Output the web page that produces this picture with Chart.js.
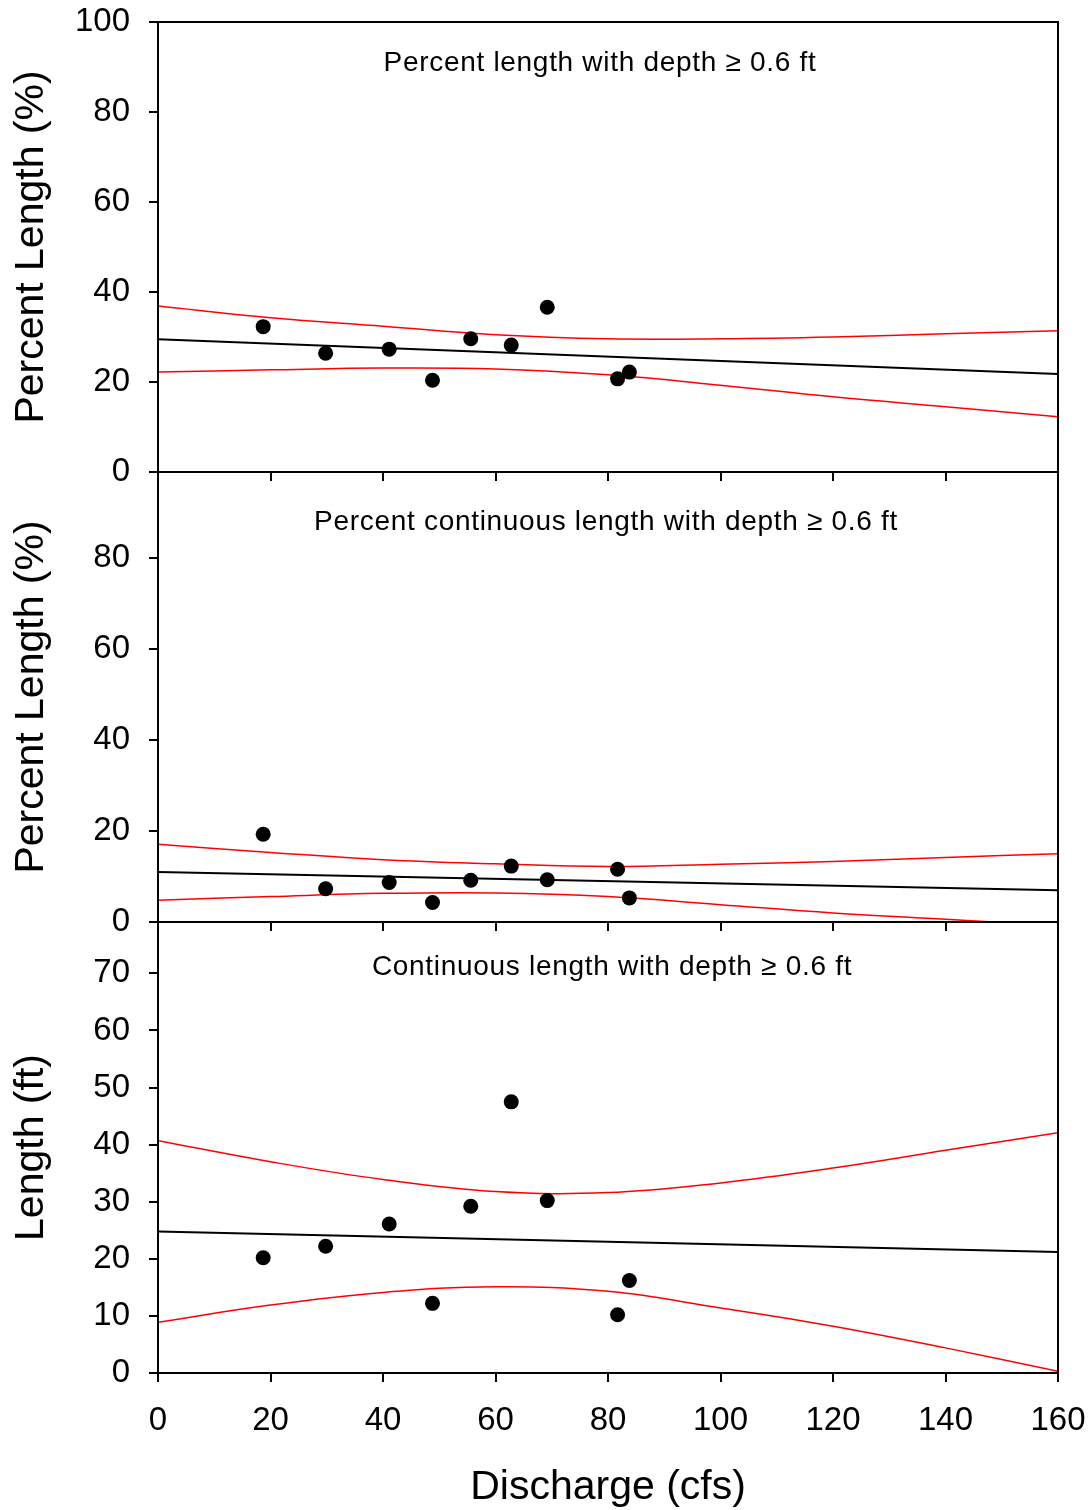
<!DOCTYPE html>
<html>
<head>
<meta charset="utf-8">
<title>Depth vs discharge</title>
<script src="https://cdn.jsdelivr.net/npm/chart.js@4.4.1/dist/chart.umd.min.js"></script>
<style>
  html, body { margin: 0; padding: 0; background: #fff; }
  #figure { position: relative; width: 1092px; height: 1510px; overflow: hidden; }
  #figure canvas { position: absolute; left: 0; }
</style>
</head>
<body>
<div id="figure">
  <canvas id="chart-pct" width="1092" height="499" style="top:2px"></canvas>
  <canvas id="chart-pct-cont" width="1092" height="499" style="top:452px"></canvas>
  <canvas id="chart-cont" width="1092" height="608" style="top:902px"></canvas>
</div>
<script>
/* ---------- Data ---------- */

// Measured discharge for each survey (cfs), shared by all three panels
const discharge = [18.7, 29.8, 41.1, 48.8, 55.6, 62.8, 69.2, 81.7, 83.8];

// Observations
const pctLength = [32.3, 26.4, 27.3, 20.4, 29.6, 28.2, 36.6, 20.7, 22.2];
const pctContLength = [19.3, 7.3, 8.7, 4.3, 9.2, 12.3, 9.3, 11.6, 5.3];
const contLength = [20.2, 22.2, 26.1, 12.2, 29.2, 47.5, 30.2, 10.2, 16.2];

// Regression line end points
const fitX = [0, 160];
const pctLengthFit = [29.5, 21.8];
const pctContFit = [11.0, 7.0];
const contFit = [24.8, 21.2];

// 95% confidence band, read at these discharges
const ciX = [0, 20, 40, 60, 80, 100, 120, 140, 160];
const pctLengthUpper = [36.9, 34.3, 32.4, 30.5, 29.6, 29.6, 30.0, 30.7, 31.4];
const pctLengthLower = [22.2, 22.7, 23.1, 22.9, 21.6, 19.3, 16.7, 14.5, 12.3];
const pctContUpper = [17.1, 15.3, 13.7, 12.8, 12.2, 12.7, 13.3, 14.2, 15.0];
const pctContLower = [4.8, 5.6, 6.3, 6.4, 5.6, 3.8, 2.0, 0.6, -0.8];
const contUpper = [40.7, 37.0, 33.9, 31.8, 31.6, 33.3, 35.9, 39.0, 42.1];
const contLower = [8.9, 11.9, 14.1, 15.1, 14.3, 11.4, 8.2, 4.4, 0.3];

// Tick labels
const xTicks = [0, 20, 40, 60, 80, 100, 120, 140, 160];
const pctTicksTop = [0, 20, 40, 60, 80, 100];
const pctTicksMid = [0, 20, 40, 60, 80];
const lengthTicks = [0, 10, 20, 30, 40, 50, 60, 70];

/* ---------- Helpers ---------- */

const FONT = "'Liberation Sans', Arial, Helvetica, sans-serif";

const toXY = (xs, ys) => xs.map((x, i) => ({ x, y: ys[i] }));

// Box round the plot area + the panel caption
const framePlugin = {
  id: 'frame',
  afterDraw(chart, args, opts) {
    const { ctx, chartArea: a } = chart;
    ctx.save();
    ctx.strokeStyle = '#000';
    ctx.lineWidth = 2;
    ctx.strokeRect(a.left, a.top, a.right - a.left, a.bottom - a.top);
    if (opts.title) {
      ctx.font = `28px ${FONT}`;
      ctx.letterSpacing = '0.7px';
      ctx.fillStyle = '#000';
      ctx.textAlign = 'center';
      ctx.textBaseline = 'middle';
      ctx.fillText(opts.title, opts.titleX, a.top + opts.titleDy);
    }
    ctx.restore();
  },
};

function axisBase(ticks) {
  return {
    type: 'linear',
    afterBuildTicks: (scale) => { scale.ticks = ticks.map((v) => ({ value: v })); },
    grid: {
      display: true, drawOnChartArea: false, drawTicks: true,
      tickLength: 9, color: '#000', lineWidth: 2,
    },
    border: { display: true, color: '#000', width: 2 },
  };
}

// Labels overflowing the plot edge must not shrink the plot area
function noEdgePadding(scale) {
  scale.paddingTop = 0;
  scale.paddingBottom = 0;
  scale.paddingLeft = 0;
  scale.paddingRight = 0;
}

function makePanel(canvasId, p) {
  return new Chart(document.getElementById(canvasId), {
    type: 'scatter',
    data: {
      datasets: [
        {
          data: toXY(discharge, p.obs),
          pointRadius: 7.5, pointHoverRadius: 7.5,
          backgroundColor: '#000', borderWidth: 0, showLine: false,
        },
        {
          data: toXY(fitX, p.fit),
          showLine: true, borderColor: '#000', borderWidth: 2, pointRadius: 0,
        },
        {
          data: toXY(ciX, p.upper),
          showLine: true, borderColor: '#ff0000', borderWidth: 1.5, pointRadius: 0, tension: 0.4,
        },
        {
          data: toXY(ciX, p.lower),
          showLine: true, borderColor: '#ff0000', borderWidth: 1.5, pointRadius: 0, tension: 0.4,
        },
      ],
    },
    options: {
      responsive: false,
      animation: false,
      layout: { padding: { top: 20, right: 34, bottom: p.padBottom, left: 0 } },
      plugins: {
        legend: { display: false },
        tooltip: { enabled: false },
        frame: { title: p.title, titleX: p.titleX, titleDy: p.titleDy },
      },
      scales: {
        x: {
          ...axisBase(xTicks),
          min: 0, max: 160,
          afterFit: (scale) => { scale.height = p.xHeight; noEdgePadding(scale); },
          ticks: { display: p.showX, color: '#000', padding: 19, font: { family: FONT, size: 33 } },
          title: {
            display: p.showX, text: 'Discharge (cfs)', color: '#000',
            font: { family: FONT, size: 41, lineHeight: 1 }, padding: { top: 0, bottom: 2 },
          },
        },
        y: {
          ...axisBase(p.yTicks),
          min: 0, max: p.yMax,
          afterFit: (scale) => { scale.width = 158; noEdgePadding(scale); },
          ticks: { color: '#000', padding: 19, font: { family: FONT, size: 33 } },
          title: {
            display: true, text: p.yTitle, color: '#000',
            font: { family: FONT, size: 41, lineHeight: 1 }, padding: { top: 11, bottom: 0 },
          },
        },
      },
    },
    plugins: [framePlugin],
  });
}

/* ---------- Panels ---------- */

makePanel('chart-pct', {
  obs: pctLength, fit: pctLengthFit, upper: pctLengthUpper, lower: pctLengthLower,
  yMax: 100, yTicks: pctTicksTop, yTitle: 'Percent Length (%)',
  title: 'Percent length with depth \u2265 0.6 ft', titleX: 600, titleDy: 41,
  showX: false, xHeight: 9, padBottom: 20,
});

makePanel('chart-pct-cont', {
  obs: pctContLength, fit: pctContFit, upper: pctContUpper, lower: pctContLower,
  yMax: 99, yTicks: pctTicksMid, yTitle: 'Percent Length (%)',
  title: 'Percent continuous length with depth \u2265 0.6 ft', titleX: 606, titleDy: 50,
  showX: false, xHeight: 9, padBottom: 20,
});

makePanel('chart-cont', {
  obs: contLength, fit: contFit, upper: contUpper, lower: contLower,
  yMax: 79, yTicks: lengthTicks, yTitle: 'Length (ft)',
  title: 'Continuous length with depth \u2265 0.6 ft', titleX: 612, titleDy: 45,
  showX: true, xHeight: 137, padBottom: 0,
});
</script>
</body>
</html>
